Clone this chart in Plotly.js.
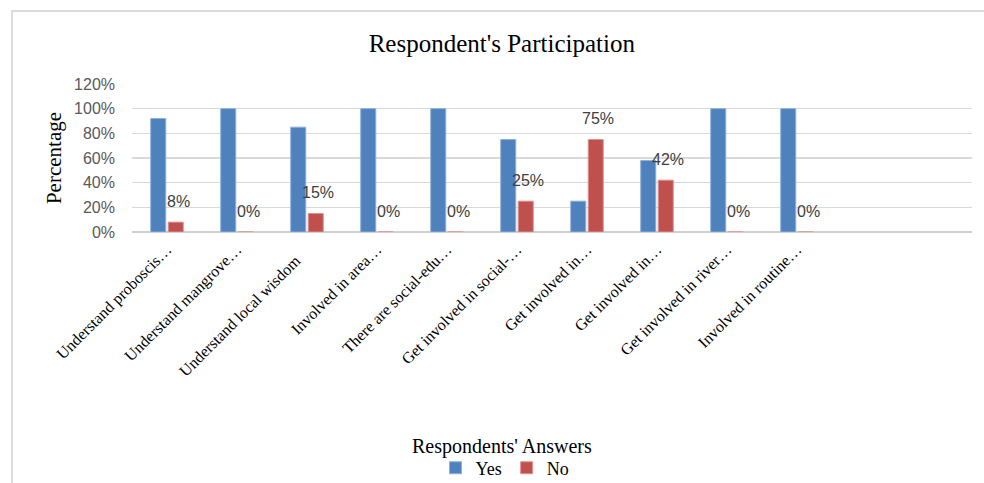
<!DOCTYPE html>
<html>
<head>
<meta charset="utf-8">
<script src="https://cdn.plot.ly/plotly-3.0.1.min.js"></script>
<style>
  html, body { margin: 0; padding: 0; background: #fff; }
  #chart { width: 984px; height: 483px; }
  #frame { position: absolute; left: 11px; top: 10px; width: 1000px; height: 500px;
           border-left: 2px solid #dcdcdc; border-top: 2px solid #dcdcdc; pointer-events: none; }
</style>
</head>
<body>
<div id="chart"></div>
<div id="frame"></div>
<script>
const categories = [
  "Understand proboscis…",
  "Understand mangrove…",
  "Understand local wisdom\u00a0\u00a0\u00a0\u00a0",
  "Involved in area…",
  "There are social-edu…",
  "Get involved in social-…",
  "Get involved in…",
  "Get involved in…\u200b",
  "Get involved in river…",
  "Involved in routine…"
];
const yesValues = [92, 100, 85, 100, 100, 75, 25, 58, 100, 100];
const noValues  = [8, 0, 15, 0, 0, 25, 75, 42, 0, 0];
const yTickVals = [0, 20, 40, 60, 80, 100, 120];
const yTickText = ["0%", "20%", "40%", "60%", "80%", "100%", "120%"];

const serif = "Liberation Serif, Times New Roman, serif";
const sans = "Liberation Sans, Arial, sans-serif";

const traces = [
  { type: "bar", name: "Yes", x: categories, y: yesValues,
    marker: { color: "#4f81bd", line: { color: "#8eb0dc", width: 1 } }, hoverinfo: "x+y" },
  { type: "bar", name: "No", x: categories, y: noValues,
    marker: { color: "#c0504d", line: { color: "#e09290", width: 1 } }, hoverinfo: "x+y" }
];

const annotations = noValues.map((v, i) => ({
  x: categories[i], y: v, xref: "x", yref: "y",
  text: v + "%", showarrow: false, xshift: 11, yshift: 21,
  font: { family: sans, size: 16, color: "#404040" }
}));
annotations.push({
  text: "Respondents' Answers", xref: "paper", yref: "paper",
  x: 0.441, y: 0, yshift: -214, yanchor: "middle", showarrow: false,
  font: { family: serif, size: 20, color: "#000" }
});

const layout = {
  width: 984, height: 483,
  margin: { l: 132, r: 12, t: 84, b: 251, autoexpand: false },
  paper_bgcolor: "#fff", plot_bgcolor: "#fff",
  title: { text: "Respondent's Participation", x: 0.51, xanchor: "center", y: 0.91, yanchor: "middle",
           font: { family: serif, size: 25, color: "#000" } },
  barmode: "group", bargap: 0.5, bargroupgap: 0.14,
  xaxis: {
    type: "category", range: [-0.5, 11.5], tickangle: -45,
    tickfont: { family: serif, size: 16, color: "#000" },
    showgrid: false, showline: false, ticks: "", automargin: false,
    ticklabelstandoff: 4
  },
  yaxis: {
    range: [0, 120], tickvals: yTickVals, ticktext: yTickText,
    tickfont: { family: sans, size: 16, color: "#595959" },
    gridcolor: "#d9d9d9", gridwidth: 1.5, zeroline: true, zerolinecolor: "#d0d0d0", zerolinewidth: 1.5,
    showline: false, ticks: "", automargin: false, ticklabelstandoff: 16,
    title: { text: "Percentage", standoff: 6, font: { family: serif, size: 21, color: "#000" } }
  },
  legend: {
    orientation: "h", x: 0.444, xanchor: "center", y: -1.595, yanchor: "middle", yref: "paper",
    font: { family: serif, size: 18, color: "#000" }, traceorder: "normal",
    itemwidth: 30, bgcolor: "rgba(0,0,0,0)"
  },
  annotations: annotations,
  showlegend: true
};

Plotly.newPlot("chart", traces, layout, { displayModeBar: false, staticPlot: true });
</script>
</body>
</html>
